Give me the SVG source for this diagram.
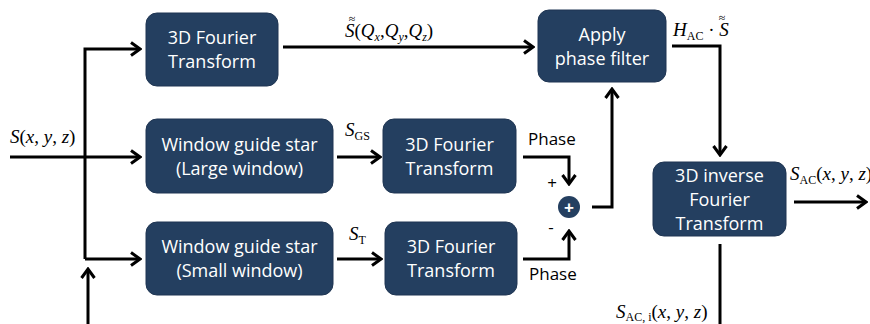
<svg xmlns="http://www.w3.org/2000/svg" width="870" height="324" viewBox="0 0 870 324">
<style>
.box{fill:#243F60;stroke:#1f3552;stroke-width:1}
.lbl{fill:#fff;font-family:"Open Sans","Liberation Sans",sans-serif;font-size:18px;text-anchor:middle}
.ln{fill:none;stroke:#000;stroke-width:3;stroke-linejoin:miter}
.m{font-family:"Liberation Serif",serif;font-size:19px;fill:#000}
.mi{font-style:italic}
.sub{font-size:12px;font-style:normal}
.ph{font-family:"Open Sans","Liberation Sans",sans-serif;font-size:17px;fill:#000}
.tl{font-family:"Liberation Serif",serif;font-size:12px;fill:#000;text-anchor:middle}
</style>
<defs>
<marker id="ah" viewBox="0 0 12 16" refX="10" refY="8" markerWidth="12" markerHeight="16" orient="auto" markerUnits="userSpaceOnUse">
<path d="M1,1.5 L10,8 L1,14.5" fill="none" stroke="#000" stroke-width="3"/>
</marker>
</defs>
<g id="connectors">
<path class="ln" d="M10,157 H140" marker-end="url(#ah)"/>
<path class="ln" d="M85,259 V49 H140" marker-end="url(#ah)"/>
<path class="ln" d="M85,259 H140" marker-end="url(#ah)"/>
<path class="ln" d="M88,324 V269" marker-end="url(#ah)"/>
<path class="ln" d="M283,47 H533" marker-end="url(#ah)"/>
<path class="ln" d="M672,46 H720 V155" marker-end="url(#ah)"/>
<path class="ln" d="M337,157 H380" marker-end="url(#ah)"/>
<path class="ln" d="M337,259 H381" marker-end="url(#ah)"/>
<path class="ln" d="M523,157 H569 V184" marker-end="url(#ah)"/>
<path class="ln" d="M523,259 H569 V231" marker-end="url(#ah)"/>
<path class="ln" d="M592,207 H612 V89" marker-end="url(#ah)"/>
<path class="ln" d="M794,202 H866" marker-end="url(#ah)"/>
<path class="ln" d="M720,244 V324"/>
</g>
<g id="ft1"><rect class="box" x="146" y="13" width="132" height="73" rx="11"/><text class="lbl" x="212" y="44">3D Fourier</text><text class="lbl" x="212" y="68">Transform</text></g>
<g id="apply"><rect class="box" x="538" y="10" width="128" height="72" rx="11"/><text class="lbl" x="602" y="41">Apply</text><text class="lbl" x="602" y="65">phase filter</text></g>
<g id="wlarge"><rect class="box" x="146" y="119" width="187" height="74" rx="11"/><text class="lbl" x="239.5" y="151">Window guide star</text><text class="lbl" x="239.5" y="175">(Large window)</text></g>
<g id="wsmall"><rect class="box" x="146" y="222" width="187" height="73" rx="11"/><text class="lbl" x="239.5" y="253">Window guide star</text><text class="lbl" x="239.5" y="277">(Small window)</text></g>
<g id="ft2"><rect class="box" x="383" y="119" width="133" height="74" rx="11"/><text class="lbl" x="449.5" y="151">3D Fourier</text><text class="lbl" x="449.5" y="175">Transform</text></g>
<g id="ft3"><rect class="box" x="385" y="222" width="132" height="73" rx="11"/><text class="lbl" x="451" y="253">3D Fourier</text><text class="lbl" x="451" y="277">Transform</text></g>
<g id="ift"><rect class="box" x="653" y="162" width="133" height="74" rx="11"/><text class="lbl" x="719.5" y="182">3D inverse</text><text class="lbl" x="719.5" y="206">Fourier</text><text class="lbl" x="719.5" y="230">Transform</text></g>
<g id="sum"><circle cx="569" cy="207" r="11" fill="#243F60"/><text x="569" y="213" fill="#fff" font-family="Liberation Sans,sans-serif" font-size="17" font-weight="bold" text-anchor="middle">+</text></g>
<g id="labels">
<text class="m" x="10" y="143"><tspan class="mi">S</tspan>(<tspan class="mi">x</tspan>, <tspan class="mi">y</tspan>, <tspan class="mi">z</tspan>)</text>
<text class="m" x="345" y="37"><tspan class="mi">S</tspan>(<tspan class="mi">Q</tspan><tspan class="mi" font-size="12" dy="4">x</tspan><tspan dy="-4">,</tspan><tspan class="mi">Q</tspan><tspan class="mi" font-size="12" dy="4">y</tspan><tspan dy="-4">,</tspan><tspan class="mi">Q</tspan><tspan class="mi" font-size="12" dy="4">z</tspan><tspan dy="-4">)</tspan></text>
<text class="tl" x="352" y="23">≈</text>
<text class="m" x="673" y="36"><tspan class="mi">H</tspan><tspan class="sub" dy="4">AC</tspan><tspan dy="-4"> · </tspan><tspan class="mi">S</tspan></text>
<text class="tl" x="722" y="22">≈</text>
<text class="m" x="345" y="136"><tspan class="mi">S</tspan><tspan class="sub" dy="4">GS</tspan></text>
<text class="m" x="349" y="240"><tspan class="mi">S</tspan><tspan class="sub" dy="4">T</tspan></text>
<text class="ph" x="528" y="145">Phase</text>
<text class="ph" x="529" y="280">Phase</text>
<text class="ph" x="552" y="189" text-anchor="middle">+</text>
<text class="ph" x="551" y="233" text-anchor="middle">-</text>
<text class="m" x="790" y="180"><tspan class="mi">S</tspan><tspan class="sub" dy="4">AC</tspan><tspan dy="-4">(</tspan><tspan class="mi">x</tspan>, <tspan class="mi">y</tspan>, <tspan class="mi">z</tspan>)</text>
<text class="m" x="616" y="318"><tspan class="mi">S</tspan><tspan class="sub" dy="3">AC, </tspan><tspan class="sub" font-style="italic">i</tspan><tspan dy="-3">(</tspan><tspan class="mi">x</tspan>, <tspan class="mi">y</tspan>, <tspan class="mi">z</tspan>)</text>
</g>
</svg>
